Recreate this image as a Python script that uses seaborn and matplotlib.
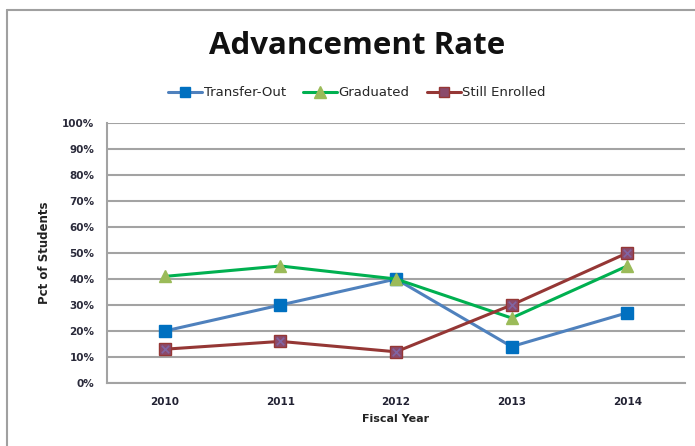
import matplotlib
matplotlib.use("Agg")
import matplotlib.pyplot as plt
import seaborn as sns
import pandas as pd
from matplotlib.lines import Line2D

years = ["2010", "2011", "2012", "2013", "2014"]
transfer_out = [20, 30, 40, 14, 27]
graduated = [41, 45, 40, 25, 45]
still_enrolled = [13, 16, 12, 30, 50]
y_ticks = [0, 10, 20, 30, 40, 50, 60, 70, 80, 90, 100]

sns.set_theme(style="white")
plt.rcParams['font.family'] = ['DejaVu Sans']

df = pd.DataFrame({
    "Fiscal Year": years * 3,
    "Pct": transfer_out + graduated + still_enrolled,
    "Series": ["Transfer-Out"] * 5 + ["Graduated"] * 5 + ["Still Enrolled"] * 5,
})

fig = plt.figure(figsize=(6.95, 4.46), dpi=100)
ax = fig.add_axes([107 / 695, 1 - 383 / 446, (685 - 107) / 695, (383 - 123) / 446])

styles = {
    "Transfer-Out": dict(line="#4F81BD", marker="s", mfc="#0070C0", mec="#0070C0", ms=8),
    "Graduated": dict(line="#00B050", marker="^", mfc="#9BBB59", mec="#9BBB59", ms=9),
    "Still Enrolled": dict(line="#953735", marker="s", mfc="#8B4A6B", mec="#953735", ms=8),
}

for name, st in styles.items():
    sub = df[df["Series"] == name]
    sns.lineplot(data=sub, x="Fiscal Year", y="Pct", ax=ax, color=st["line"], lw=2.2,
                 marker=st["marker"], markersize=st["ms"], markerfacecolor=st["mfc"],
                 markeredgecolor=st["mec"], markeredgewidth=1, zorder=3, sort=False)
sub = df[df["Series"] == "Still Enrolled"]
sns.scatterplot(data=sub, x="Fiscal Year", y="Pct", ax=ax, marker="x", s=28,
                color="#8064A2", linewidth=1.2, zorder=4, legend=False)

ax.set_xlim(-0.5, 4.5)
ax.set_ylim(0, 100)
ax.set_yticks(y_ticks)
ax.set_yticklabels([f"{v}%" for v in y_ticks], fontsize=7.5, color="#2a2a3a")
ax.tick_params(axis="x", labelsize=7.5, colors="#222233", length=0, pad=10)
ax.tick_params(axis="y", length=2, width=1.2, color="#999999", pad=7, direction="out")
for lab in ax.get_xticklabels() + ax.get_yticklabels():
    lab.set_fontweight("bold")
ax.grid(axis="y", color="#a3a3a3", lw=1.5)
ax.set_axisbelow(True)
for s in ["top", "right"]:
    ax.spines[s].set_visible(False)
for s in ["left", "bottom"]:
    ax.spines[s].set_color("#a3a3a3")
    ax.spines[s].set_linewidth(1.5)

ax.set_xlabel("Fiscal Year", fontsize=8, fontweight="bold", color="#222222", labelpad=5)
ax.set_ylabel("Pct of Students", fontsize=8.5, fontweight="bold", color="#222222", labelpad=8)

fig.text(357 / 695, 1 - 46 / 446, "Advancement Rate", ha="center", va="center",
         fontsize=22.5, fontweight="bold", color="#111111", family=["Open Sans", "DejaVu Sans"])

handles = [Line2D([0], [0], color=st["line"], lw=2.2, marker=st["marker"], markersize=st["ms"] - 1,
                  markerfacecolor=st["mfc"], markeredgecolor=st["mec"]) for st in styles.values()]
fig.legend(handles, list(styles.keys()), loc="center", bbox_to_anchor=(357 / 695, 1 - 93 / 446),
           ncol=3, frameon=False, handlelength=2.6, handletextpad=0.1,
           columnspacing=1.3, prop={"size": 9.5})

# outer chart border
fig.add_artist(Line2D([7 / 695, 1.0], [1 - 10 / 446] * 2, transform=fig.transFigure, color="#a0a0a0", lw=1.5))
fig.add_artist(Line2D([7 / 695] * 2, [0, 1 - 10 / 446], transform=fig.transFigure, color="#a0a0a0", lw=1.5))

fig.savefig("out.png", dpi=100, facecolor="white")
